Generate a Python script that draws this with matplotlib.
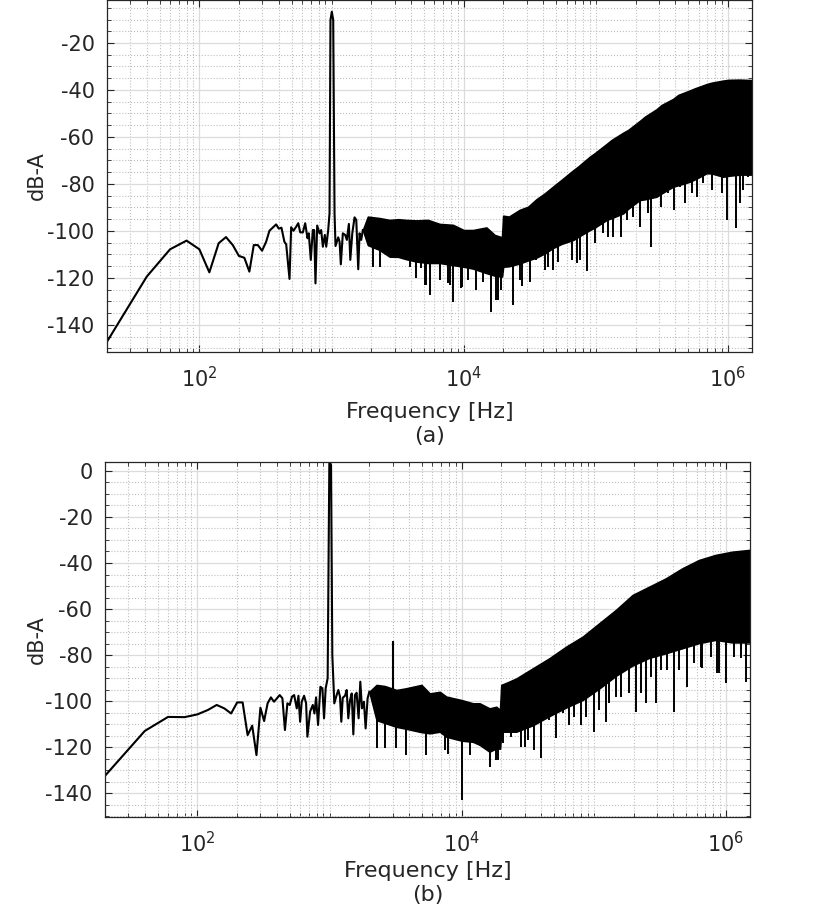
import numpy as np
import matplotlib
matplotlib.use('Agg')
import matplotlib.pyplot as plt
from matplotlib.ticker import FixedLocator, LogLocator, MultipleLocator, NullFormatter

# ---- (a) low frequency part, drawn as a line ----
top_f = [20, 40, 60, 80, 100, 119, 140, 159, 179, 199, 219, 239, 258, 277, 298, 320,
         339, 381, 399, 418, 440, 454, 481, 495, 515, 540, 560, 580, 607, 632, 658, 673,
         697, 722, 739, 756, 779, 811, 835, 860, 890, 912, 944, 966, 982, 1005, 1030, 1054,
         1072, 1124, 1151, 1176, 1218, 1270, 1306, 1353, 1387, 1436, 1494, 1539, 1593, 1630,
         1678, 1726]
top_db = [-147.1, -119.4, -107.8, -104.1, -107.8, -117.6, -105.2, -102.6, -106, -110.6,
          -111.4, -117.3, -106, -106, -108.4, -104.6, -99.9, -97.2, -99, -98.6, -104.6,
          -105.7, -120.4, -98.4, -99.9, -98.2, -96.7, -100.6, -100.6, -96.7, -103.1, -101,
          -112.3, -99.6, -99.6, -122.3, -97.7, -101, -99.6, -106.7, -101.7, -106.7, -99.6,
          -92.5, -10.2, -6.7, -10.2, -92.5, -106.4, -102.7, -104.6, -114.2, -101, -101.7,
          -103.8, -97, -112.3, -101, -94.2, -95.3, -116.3, -101, -103.8, -99.6]

# (a) dense noise band: upper / lower edge of the solid band
top_env_f = [1726, 1884, 2300, 2750, 3200, 3680, 4400, 5370, 6580, 8300, 10000, 11780,
             14860, 17170, 19500, 19900, 22000, 26560, 30700, 35540, 41100, 47540, 54900,
             67400, 73500, 90100, 98200, 120600, 131500, 161000, 175800, 215000, 235000,
             288000, 314500, 385000, 420900, 515000, 562300, 690000, 752000, 922000,
             1007000, 1230000, 1520000]
top_env_hi = [-99.6, -93.9, -94.5, -95.3, -95.0, -95.3, -95.5, -95.3, -97.0, -97.4, -99.6,
              -99.6, -98.5, -101.7, -102.7, -93.5, -93.9, -91.0, -89.7, -86.5, -84.0, -81.1,
              -78.3, -74.2, -72.6, -68.4, -66.9, -63.0, -61.3, -58.2, -57.0, -53.2, -51.4,
              -48.2, -46.4, -43.8, -42.1, -40.2, -39.3, -37.5, -36.9, -36.0, -35.7, -35.6,
              -35.8]
top_env_lo = [-99.6, -106, -108, -110.9, -111, -112, -113, -113.6, -113.6, -114.5, -115.2,
              -116, -117.9, -119.0, -119.4, -115.2, -115.0, -113.8, -112.5, -111.3, -109.5,
              -107.2, -105.5, -103.8, -102.5, -99.6, -98.5, -95.3, -94.5, -92.5, -90.5,
              -86.8, -86.5, -85.4, -84.0, -81.1, -80.5, -79.0, -78.0, -75.4, -75.5, -76.9,
              -76.5, -76.0, -76.0]

# (a) downward spikes below the band
top_spike_f = [2055, 2310, 3370, 3900, 4390, 4790, 5070, 5150, 5520, 6580, 7600, 7840, 8300,
               9600, 9770, 10800, 12470, 14000, 16200, 17700, 18200, 19270, 23700, 26560,
               27400, 31600, 35550, 41100, 43550, 47540, 51900, 58230, 65460, 71430, 75700,
               85900, 98200, 113700, 124000, 135300, 154600, 170700, 191700, 217800, 249000,
               263000, 310500, 353000, 390000, 432800, 472000, 530400, 579000, 650000,
               751900, 895000, 988000, 1143000, 1233000, 1307000, 1426000]
top_spike_db = [-115.2, -115.2, -111.6, -115.2, -120.1, -115.9, -123, -123, -127.2, -120.9,
                -122.1, -123, -130.1, -124.4, -123.7, -120.9, -125.1, -121.7, -134.3, -129.4,
                -129.4, -125.1, -131.5, -120.9, -123.4, -121.6, -112.3, -116.6, -115.2,
                -116.6, -113.1, -102.4, -112.3, -113.8, -112.3, -116.9, -105.2, -101, -102.4,
                -102.4, -102.4, -95.3, -93.9, -98.2, -92.5, -106.7, -89.7, -84, -91.1, -81.1,
                -88.2, -84, -85.4, -79.7, -82.6, -84, -95.3, -98.9, -88.2, -82.6, -76.9]

# ---- (b) low frequency part ----
bot_f = [20, 40, 60, 80, 100, 120, 140, 160, 180, 200, 220, 240, 260, 280, 300, 320, 340,
         360, 380, 420, 440, 460, 480, 500, 520, 540, 565, 582, 599, 616, 642, 665, 680,
         713, 747, 769, 791, 819, 853, 883, 909, 935, 968, 997, 1027, 1050, 1087, 1132,
         1166, 1200, 1228, 1259, 1310, 1349, 1387, 1430, 1472, 1514, 1557, 1603, 1660,
         1710, 1760, 1821, 1876, 1942, 2000]
bot_db = [-132.5, -113, -106.9, -107, -105.8, -103.9, -101.7, -103.2, -105.4, -100.6,
          -100.6, -114.8, -110.7, -123.5, -102.9, -108.7, -101, -98.4, -100.3, -97.4, -98.8,
          -112.6, -101, -101.7, -98.1, -97.4, -103.2, -97.7, -109, -100.3, -97.7, -101,
          -115.5, -104.6, -101.7, -105.4, -98.4, -110.4, -93.8, -94.5, -107.5, -94.5, -90.1,
          4.5, 2.6, -80, -101, -97.4, -95.2, -98.1, -109, -98.6, -97.7, -95.2, -107.5, -99.6,
          -96.7, -114.5, -97.4, -96.4, -107.5, -91.6, -103.2, -100.3, -111.9, -98.8, -96]

bot_env_f = [2000, 2270, 2620, 3210, 3780, 4960, 5730, 6830, 7660, 10000, 12170, 13680,
             16250, 18290, 19500, 19950, 22000, 25900, 34550, 46150, 61650, 82400, 110000,
             147000, 196500, 262500, 350600, 468000, 625000, 835000, 1116000, 1520000]
bot_env_hi = [-96, -93, -93.5, -95.2, -94.5, -93, -96.7, -96, -98.1, -99.6, -101, -101,
              -103.2, -102.5, -103.9, -93, -92, -90.2, -85.8, -81.4, -76.4, -72, -66.2,
              -60.4, -53.9, -50.3, -46.7, -42.3, -38.7, -36.5, -35.1, -34.3]
bot_env_lo = [-96, -108.3, -109.5, -111.2, -112, -113.5, -114, -113.3, -115.5, -117.2,
              -117.7, -119, -122, -120.5, -120.7, -113.3, -113.3, -113.3, -110.5, -106.5,
              -102.8, -99.5, -94.5, -89, -84.5, -81.2, -79.2, -77, -74.8, -73.4, -74.5, -74.5]

bot_spike_f = [2270, 2620, 3180, 3780, 5400, 7450, 7890, 10000, 11500, 16250, 18280, 18800,
               20500, 23710, 28230, 29900, 31650, 35540, 39900, 46130, 51800, 58200, 65300,
               71250, 79980, 87300, 101000, 110200, 123600, 131000, 147100, 160400, 185300,
               208000, 226800, 247700, 270300, 294700, 321400, 360600, 405700, 441600,
               510600, 573000, 643600, 662300, 766000, 859000, 885000, 1005000, 1149000,
               1310000, 1410000]
bot_spike_db = [-120.6, -120.6, -120.6, -123.5, -123.5, -121.3, -122.8, -143, -123.5, -128.6,
                -125.7, -125.7, -118.4, -115.5, -119.9, -119.9, -117, -121.3, -124.9, -108.3,
                -116.2, -105.4, -110.4, -106.8, -110.4, -106.8, -113.3, -103.9, -109, -101,
                -98.1, -98.1, -96.7, -104.6, -96.7, -101, -89.4, -101, -86.5, -86.5, -104.6,
                -86.5, -93.8, -83.6, -85.1, -85.8, -80.7, -88, -88, -92.3, -80.7, -81.4, -91.6]

# 3 kHz harmonic in (b)
harm_f = [3000]
harm_db = [-73.8]

txt = '#262626'
plt.rcParams['font.family'] = ['DejaVu Sans']
plt.rcParams['mathtext.default'] = 'regular'
plt.rcParams['axes.unicode_minus'] = False


def style_axes(ax, ylim, yticks):
    ax.set_xscale('log')
    ax.set_xlim(20, 1.52e6)
    ax.set_ylim(*ylim)
    ax.xaxis.set_major_locator(FixedLocator([1e2, 1e4, 1e6]))
    ax.xaxis.set_minor_locator(LogLocator(base=10, subs=np.arange(1, 10), numticks=20))
    ax.xaxis.set_minor_formatter(NullFormatter())
    ax.set_yticks(yticks)
    ax.yaxis.set_minor_locator(MultipleLocator(5))
    ax.tick_params(which='both', direction='in', top=True, right=True, colors=txt,
                   labelcolor=txt, labelsize=15)
    ax.tick_params(axis='x', which='major', length=5, pad=10)
    ax.tick_params(axis='y', which='major', length=5, pad=9)
    ax.tick_params(which='minor', length=3)
    ax.grid(True, which='major', color='#dcdcdc', linestyle='-', linewidth=0.9)
    ax.grid(True, which='minor', color='#bfbfbf', linestyle=':', linewidth=0.8)
    ax.set_axisbelow(True)
    for s in ax.spines.values():
        s.set_color(txt)
        s.set_linewidth(0.9)


def draw(ax, f, db, ef, ehi, elo, sf, sdb):
    ax.plot(f, db, color='black', lw=1.5)
    ax.fill_between(ef, elo, ehi, color='black', lw=1.2, edgecolor='black')
    top = np.interp(np.log10(sf), np.log10(ef), np.array(elo)) + 2
    ax.vlines(sf, sdb, top, color='black', lw=1.4)


fig = plt.figure(figsize=(8.3, 9.24), dpi=100)

ax1 = fig.add_axes([107 / 830, 1 - 352 / 924, 645 / 830, 352 / 924])
draw(ax1, top_f, top_db, top_env_f, top_env_hi, top_env_lo, top_spike_f, top_spike_db)
style_axes(ax1, (-151.5, -1.7), np.arange(-140, -19, 20))

ax2 = fig.add_axes([105 / 830, 1 - 817 / 924, 645 / 830, 355 / 924])
draw(ax2, bot_f, bot_db, bot_env_f, bot_env_hi, bot_env_lo, bot_spike_f, bot_spike_db)
harm_base = np.interp(np.log10(harm_f), np.log10(bot_env_f), np.array(bot_env_hi))
ax2.vlines(harm_f, harm_base, harm_db, color='black', lw=1.5)
style_axes(ax2, (-150.4, 3.9), np.arange(-140, 1, 20))

# labels
fig.text(37 / 830, 1 - 176 / 924, 'dB-A', rotation=90, ha='center', va='center',
         fontsize=15, color=txt)
fig.text(37 / 830, 1 - 640 / 924, 'dB-A', rotation=90, ha='center', va='center',
         fontsize=15, color=txt)
fig.text(430 / 830, 1 - 424 / 924, 'Frequency [Hz]\n(a)', ha='center', va='center',
         fontsize=16, color=txt, linespacing=1.25)
fig.text(428 / 830, 1 - 883 / 924, 'Frequency [Hz]\n(b)', ha='center', va='center',
         fontsize=16, color=txt, linespacing=1.25)

fig.savefig('out.png', dpi=100)
